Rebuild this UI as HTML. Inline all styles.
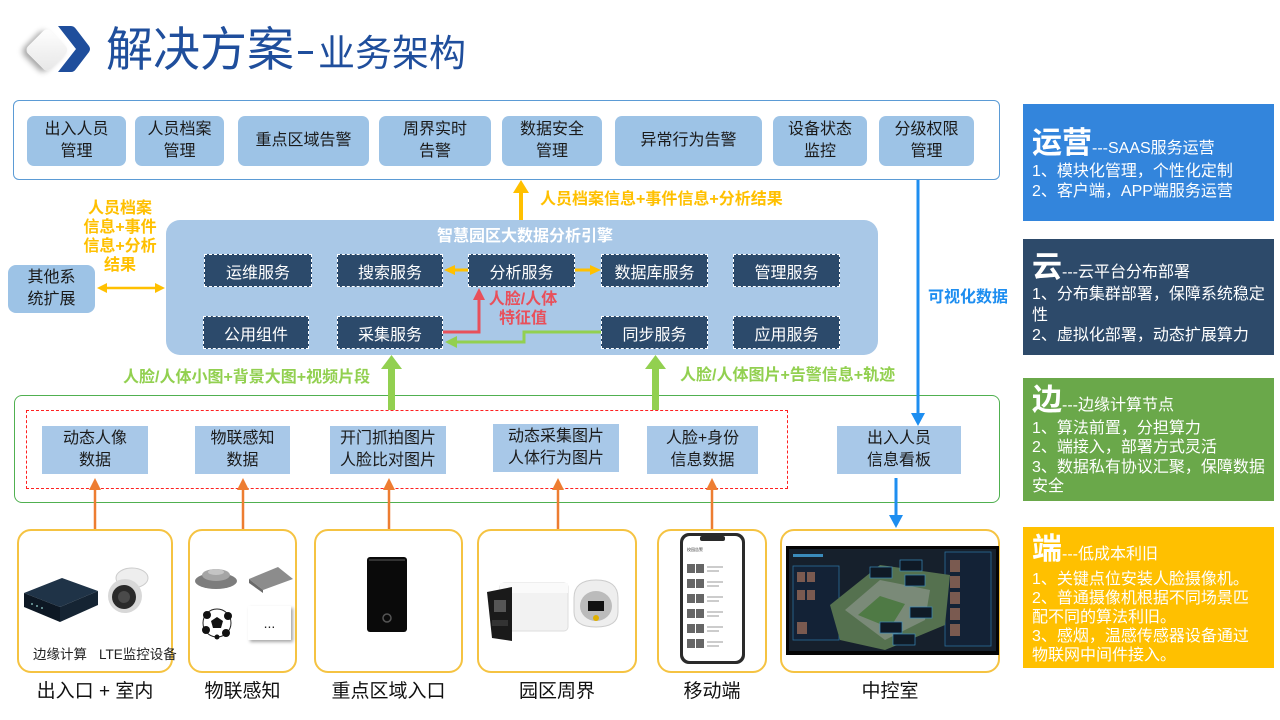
<!DOCTYPE html>
<html><head><meta charset="utf-8">
<style>
*{margin:0;padding:0;box-sizing:border-box}
body{width:1280px;height:720px;overflow:hidden;background:#fff;font-family:"Liberation Sans","Noto Sans CJK SC",sans-serif;position:relative}
.a{position:absolute;white-space:nowrap}
.c{display:flex;align-items:center;justify-content:center;text-align:center}
.tb{background:#9dc3e6;border-radius:7px;font-size:16px;line-height:22px;color:#1a1a1a;top:116px;height:50px}
.db{background:#2c4a6b;border:1.5px dashed #fff;color:#fff;font-size:16px;height:33px}
.lb{background:#a8c8e8;font-size:16px;line-height:22px;color:#1a1a1a;}
.dev{border:2px solid #f5c342;border-radius:14px;top:529px;height:144px}
.dl{top:680px;font-size:19px;color:#111;height:24px;line-height:24px}
.rp{left:1023px;width:251px}
.rt{left:1032px;color:#fff;font-size:30px;font-weight:bold;line-height:30px}
.rt span{font-size:16px;font-weight:normal}
.rl{left:1032px;color:#fff;font-size:16px}
.lab{font-weight:bold;font-size:16px}
</style></head><body>

<!-- Title -->
<svg class="a" style="left:0;top:0" width="110" height="95">
  <defs><filter id="sh" x="-50%" y="-50%" width="200%" height="200%"><feDropShadow dx="-2" dy="4" stdDeviation="3" flood-color="#000" flood-opacity="0.35"/></filter>
  <linearGradient id="dg" x1="0" y1="0" x2="1" y2="1"><stop offset="0" stop-color="#ffffff"/><stop offset="1" stop-color="#e6e6e6"/></linearGradient></defs>
  <rect x="31" y="34" width="32" height="32" rx="6" fill="url(#dg)" transform="rotate(45 47 50)" filter="url(#sh)"/>
  <path d="M58 26 L71 26 Q74 26 76 29 L89 46 Q91 49 89 52 L76 69 Q74 72 71 72 L58 72 L76 49 Z" fill="#1f4e9c"/>
</svg>
<div class="a" style="left:106px;top:25px;font-size:47px;line-height:50px;color:#1f4e9c">解决方案</div>
<div class="a" style="left:298px;top:51px;width:15px;height:3px;background:#1f4e9c"></div>
<div class="a" style="left:318px;top:34px;font-size:37px;line-height:40px;color:#1f4e9c">业务架构</div>

<!-- Top box -->
<div class="a" style="left:13px;top:100px;width:987px;height:80px;border:1.5px solid #5b9bd5;border-radius:6px"></div>
<div class="a c tb" style="left:27px;width:99px">出入人员<br>管理</div>
<div class="a c tb" style="left:135px;width:89px">人员档案<br>管理</div>
<div class="a c tb" style="left:238px;width:131px">重点区域告警</div>
<div class="a c tb" style="left:379px;width:112px">周界实时<br>告警</div>
<div class="a c tb" style="left:502px;width:100px">数据安全<br>管理</div>
<div class="a c tb" style="left:615px;width:147px">异常行为告警</div>
<div class="a c tb" style="left:773px;width:94px">设备状态<br>监控</div>
<div class="a c tb" style="left:879px;width:95px">分级权限<br>管理</div>

<!-- Engine -->
<div class="a" style="left:166px;top:220px;width:712px;height:135px;background:#a9c8e7;border-radius:14px"></div>
<div class="a" style="left:437px;top:227px;font-size:16px;line-height:20px;font-weight:bold;color:#fff">智慧园区大数据分析引擎</div>
<div class="a c db" style="left:204px;top:254px;width:108px">运维服务</div>
<div class="a c db" style="left:337px;top:254px;width:106px">搜索服务</div>
<div class="a c db" style="left:468px;top:254px;width:107px">分析服务</div>
<div class="a c db" style="left:601px;top:254px;width:107px">数据库服务</div>
<div class="a c db" style="left:733px;top:254px;width:107px">管理服务</div>
<div class="a c db" style="left:203px;top:316px;width:106px">公用组件</div>
<div class="a c db" style="left:337px;top:316px;width:106px">采集服务</div>
<div class="a c db" style="left:601px;top:316px;width:107px">同步服务</div>
<div class="a c db" style="left:733px;top:316px;width:107px">应用服务</div>

<!-- Other system -->
<div class="a c" style="left:8px;top:265px;width:87px;height:48px;background:#9dc3e6;border-radius:8px;font-size:16px;line-height:22px;color:#1a1a1a">其他系<br>统扩展</div>

<!-- Bottom green box -->
<div class="a" style="left:14px;top:395px;width:986px;height:108px;border:1.5px solid #50b050;border-radius:8px"></div>
<div class="a" style="left:26px;top:410px;width:762px;height:79px;border:1.5px dashed #ff2020"></div>
<div class="a c lb" style="left:42px;top:426px;width:106px;height:48px">动态人像<br>数据</div>
<div class="a c lb" style="left:195px;top:426px;width:95px;height:48px">物联感知<br>数据</div>
<div class="a c lb" style="left:330px;top:426px;width:116px;height:48px">开门抓拍图片<br>人脸比对图片</div>
<div class="a c lb" style="left:493px;top:424px;width:126px;height:48px">动态采集图片<br>人体行为图片</div>
<div class="a c lb" style="left:647px;top:426px;width:111px;height:48px">人脸+身份<br>信息数据</div>
<div class="a c lb" style="left:837px;top:426px;width:124px;height:48px">出入人员<br>信息看板</div>

<!-- Labels -->
<div class="a lab" style="left:540px;top:189px;line-height:22px;color:#ffc000">人员档案信息+事件信息+分析结果</div>
<div class="a lab c" style="left:70px;top:199px;width:100px;line-height:19px;color:#ffc000">人员档案<br>信息+事件<br>信息+分析<br>结果</div>
<div class="a lab c" style="left:478px;top:290px;width:90px;line-height:19px;color:#e8505b">人脸/人体<br>特征值</div>
<div class="a lab" style="left:123px;top:367px;line-height:22px;color:#92d050">人脸/人体小图+背景大图+视频片段</div>
<div class="a lab" style="left:680px;top:365px;line-height:22px;color:#92d050">人脸/人体图片+告警信息+轨迹</div>
<div class="a lab" style="left:928px;top:287px;line-height:22px;color:#1e8ef0">可视化数据</div>

<!-- Device boxes -->
<div class="a dev" style="left:17px;width:156px"></div>
<div class="a dev" style="left:188px;width:109px"></div>
<div class="a dev" style="left:314px;width:149px"></div>
<div class="a dev" style="left:477px;width:160px"></div>
<div class="a dev" style="left:657px;width:110px"></div>
<div class="a dev" style="left:780px;width:220px"></div>
<div class="a" style="left:33px;top:646px;font-size:13.5px;line-height:18px;color:#222">边缘计算</div>
<div class="a" style="left:99px;top:646px;font-size:13.5px;line-height:18px;color:#222">LTE监控设备</div>

<div class="a c dl" style="left:17px;width:156px">出入口 + 室内</div>
<div class="a c dl" style="left:188px;width:109px">物联感知</div>
<div class="a c dl" style="left:314px;width:149px">重点区域入口</div>
<div class="a c dl" style="left:477px;width:160px">园区周界</div>
<div class="a c dl" style="left:657px;width:110px">移动端</div>
<div class="a c dl" style="left:780px;width:220px">中控室</div>

<!-- Connectors & device drawings -->
<svg class="a" style="left:0;top:0" width="1010" height="720">
  <defs><filter id="cs" x="-30%" y="-30%" width="160%" height="160%"><feDropShadow dx="2" dy="2" stdDeviation="1.5" flood-color="#000" flood-opacity="0.35"/></filter></defs>
  <!-- yellow -->
  <line x1="521" y1="220" x2="521" y2="191" stroke="#ffc000" stroke-width="4"/>
  <polygon points="521,180 513,193 529,193" fill="#ffc000"/>
  <line x1="105" y1="288" x2="157" y2="288" stroke="#ffc000" stroke-width="2.5"/>
  <polygon points="97,288 107,283 107,293" fill="#ffc000"/>
  <polygon points="165,288 155,283 155,293" fill="#ffc000"/>
  <line x1="468" y1="270" x2="453" y2="270" stroke="#ffc000" stroke-width="3"/>
  <polygon points="444,270 455,265 455,275" fill="#ffc000"/>
  <line x1="575" y1="270" x2="591" y2="270" stroke="#ffc000" stroke-width="3"/>
  <polygon points="601,270 590,265 590,275" fill="#ffc000"/>
  <!-- red -->
  <polyline points="443,332 479,332 479,298" fill="none" stroke="#e8505b" stroke-width="3"/>
  <polygon points="479,288 473,300 485,300" fill="#e8505b"/>
  <!-- green -->
  <polyline points="601,332 524,332 524,342 455,342" fill="none" stroke="#92d050" stroke-width="3"/>
  <polygon points="445,342 457,336 457,348" fill="#92d050"/>
  <rect x="388" y="365" width="7" height="45" fill="#92d050"/>
  <polygon points="391.5,355 381,369 402,369" fill="#92d050"/>
  <rect x="652" y="365" width="7" height="45" fill="#92d050"/>
  <polygon points="655.5,355 645,369 666,369" fill="#92d050"/>
  <!-- blue -->
  <line x1="918" y1="180" x2="918" y2="415" stroke="#1e8ef0" stroke-width="3"/>
  <polygon points="918,426 911,413 925,413" fill="#1e8ef0"/>
  <line x1="896" y1="478" x2="896" y2="517" stroke="#1e8ef0" stroke-width="3"/>
  <polygon points="896,528 889,515 903,515" fill="#1e8ef0"/>
  <!-- orange -->
  <g stroke="#ed7d31" stroke-width="2.5">
    <line x1="95" y1="529" x2="95" y2="488"/>
    <line x1="243" y1="529" x2="243" y2="488"/>
    <line x1="389" y1="529" x2="389" y2="488"/>
    <line x1="558" y1="529" x2="558" y2="488"/>
    <line x1="712" y1="529" x2="712" y2="488"/>
  </g>
  <g fill="#ed7d31">
    <polygon points="95,478 89,490 101,490"/>
    <polygon points="243,478 237,490 249,490"/>
    <polygon points="389,478 383,490 395,490"/>
    <polygon points="558,478 552,490 564,490"/>
    <polygon points="712,478 706,490 718,490"/>
  </g>

  <!-- box1 edge device -->
  <polygon points="24,593 62,578 98,591 60,607" fill="#1f3347"/>
  <polygon points="24,593 60,607 60,622 24,607" fill="#0d1824"/>
  <polygon points="60,607 98,591 98,605 60,622" fill="#152433"/>
  <rect x="55" y="586" width="14" height="8" fill="#2b4258" transform="skewX(-20)"/>
  <circle cx="32" cy="604" r="1" fill="#7aa"/><circle cx="37" cy="606" r="1" fill="#7aa"/><circle cx="42" cy="608" r="1" fill="#7aa"/>
  <!-- camera -->
  <ellipse cx="132" cy="578" rx="16" ry="10" fill="#eee" stroke="#ccc"/>
  <circle cx="125" cy="596" r="17" fill="#d8d8d8"/>
  <circle cx="124" cy="597" r="12" fill="#2a2a2a"/>
  <circle cx="124" cy="597" r="6" fill="#4a4a4a"/>

  <!-- box2 IoT -->
  <ellipse cx="216" cy="581" rx="21" ry="8" fill="#7d7d7d"/>
  <ellipse cx="216" cy="575" rx="14" ry="6" fill="#a5a5a5"/>
  <ellipse cx="216" cy="572" rx="8" ry="3" fill="#c4c4c4"/>
  <polygon points="249,579 278,567 293,579 263,590" fill="#8c8c8c"/>
  <polygon points="249,579 263,590 263,593 249,583" fill="#6a6a6a"/>
  <circle cx="217" cy="623" r="14" fill="#fff" stroke="#222" stroke-width="1"/>
  <polygon points="217,617 223,621 221,628 213,628 211,621" fill="#111"/>
  <circle cx="207" cy="615" r="4" fill="#111"/><circle cx="228" cy="616" r="4" fill="#111"/>
  <circle cx="206" cy="630" r="4" fill="#111"/><circle cx="226" cy="633" r="4" fill="#111"/><circle cx="217" cy="637" r="2.5" fill="#111"/>
  <rect x="248" y="606" width="43" height="34" fill="#fff" filter="url(#cs)"/>
  <text x="269.5" y="628" font-size="14" text-anchor="middle" fill="#222" font-family="Liberation Sans, sans-serif">...</text>

  <!-- box3 access device -->
  <rect x="367" y="557" width="40" height="75" rx="3" fill="#0a0a0a"/>
  <rect x="369" y="559" width="36" height="2" fill="#333"/>
  <circle cx="387" cy="618" r="4" fill="none" stroke="#555" stroke-width="1.5"/>

  <!-- box4 cameras -->
  <rect x="500" y="583" width="68" height="48" rx="4" fill="#f2f2f2" stroke="#ddd"/>
  <rect x="500" y="583" width="68" height="10" fill="#fafafa"/>
  <polygon points="487,592 512,587 512,641 492,638" fill="#1a1a1a"/>
  <rect x="494" y="600" width="12" height="12" fill="#555"/>
  <rect x="492" y="620" width="16" height="6" fill="#333"/>
  <path d="M574 598 Q574 580 596 580 Q618 580 618 598 L618 612 Q618 627 596 627 Q574 627 574 612 Z" fill="#eeeeee" stroke="#ccc"/>
  <ellipse cx="596" cy="606" rx="16" ry="15" fill="#bbb"/>
  <rect x="588" y="601" width="16" height="10" fill="#111"/>
  <circle cx="596" cy="618" r="3" fill="#e0b000"/>

  <!-- box5 phone -->
  <rect x="680" y="533" width="65" height="131" rx="9" fill="#2a2a2a"/>
  <rect x="683" y="536" width="59" height="125" rx="7" fill="#fff"/>
  <rect x="700" y="536" width="25" height="5" rx="2" fill="#2a2a2a"/>
  <text x="687" y="551" font-size="4" fill="#333" font-family="Noto Sans CJK SC, sans-serif">校园告警</text>
  <g fill="#666">
    <rect x="687" y="564" width="8" height="9"/><rect x="696" y="564" width="8" height="9"/>
    <rect x="687" y="579" width="8" height="9"/><rect x="696" y="579" width="8" height="9"/>
    <rect x="687" y="594" width="8" height="9"/><rect x="696" y="594" width="8" height="9"/>
    <rect x="687" y="609" width="8" height="9"/><rect x="696" y="609" width="8" height="9"/>
    <rect x="687" y="624" width="8" height="9"/><rect x="696" y="624" width="8" height="9"/>
    <rect x="687" y="639" width="8" height="9"/><rect x="696" y="639" width="8" height="9"/>
  </g>
  <g fill="#ccc">
    <rect x="707" y="566" width="16" height="2"/><rect x="707" y="570" width="12" height="2"/>
    <rect x="707" y="581" width="16" height="2"/><rect x="707" y="585" width="12" height="2"/>
    <rect x="707" y="596" width="16" height="2"/><rect x="707" y="600" width="12" height="2"/>
    <rect x="707" y="611" width="16" height="2"/><rect x="707" y="615" width="12" height="2"/>
    <rect x="707" y="626" width="16" height="2"/><rect x="707" y="630" width="12" height="2"/>
    <rect x="707" y="641" width="16" height="2"/><rect x="707" y="645" width="12" height="2"/>
  </g>

  <!-- box6 control screen -->
  <rect x="786" y="546" width="213" height="109" fill="#050505"/>
  <rect x="789" y="549" width="207" height="102" fill="#16202c"/>
  <rect x="793" y="566" width="46" height="74" fill="#132236" stroke="#2c6e9c" stroke-width="0.8"/>
  <rect x="945" y="552" width="46" height="94" fill="#132236" stroke="#2c6e9c" stroke-width="0.8"/>
  <polygon points="830,605 880,565 950,575 945,625 885,650 840,640" fill="#55714f"/>
  <polygon points="845,610 880,580 930,590 925,620 885,640" fill="#7a8a78"/>
  <polygon points="858,615 880,596 905,604 890,628" fill="#4f7a45"/>
  <g fill="#7a5a50">
    <rect x="950" y="560" width="10" height="12"/><rect x="950" y="576" width="10" height="12"/><rect x="950" y="592" width="10" height="12"/><rect x="950" y="608" width="10" height="12"/><rect x="950" y="624" width="10" height="12"/>
    <rect x="797" y="572" width="8" height="10"/><rect x="807" y="572" width="8" height="10"/><rect x="797" y="590" width="8" height="10"/><rect x="807" y="590" width="8" height="10"/><rect x="797" y="622" width="10" height="12"/>
  </g>
  <g fill="#0f1a26" stroke="#3a8bbb" stroke-width="0.7">
    <rect x="870" y="567" width="22" height="11"/><rect x="900" y="560" width="22" height="11"/><rect x="905" y="575" width="20" height="11"/>
    <rect x="910" y="607" width="22" height="11"/><rect x="880" y="622" width="22" height="11"/><rect x="893" y="634" width="22" height="11"/>
  </g>
  <rect x="793" y="554" width="30" height="3" fill="#3a8bbb"/>
</svg>

<!-- Right panels -->
<div class="a rp" style="top:104px;height:117px;background:#3385dc"></div>
<div class="a rt" style="top:129px">运营<span>---SAAS服务运营</span></div>
<div class="a rl" style="top:162px;line-height:19.5px">1、模块化管理，个性化定制<br>2、客户端，APP端服务运营</div>

<div class="a rp" style="top:239px;height:116px;background:#2d4a6a"></div>
<div class="a rt" style="top:253px">云<span>---云平台分布部署</span></div>
<div class="a rl" style="top:285px;line-height:20.5px">1、分布集群部署，保障系统稳定<br>性<br>2、虚拟化部署，动态扩展算力</div>

<div class="a rp" style="top:378px;height:123px;background:#6aa84a"></div>
<div class="a rt" style="top:386px">边<span>---边缘计算节点</span></div>
<div class="a rl" style="top:419px;line-height:19.4px">1、算法前置，分担算力<br>2、端接入，部署方式灵活<br>3、数据私有协议汇聚，保障数据<br>安全</div>

<div class="a rp" style="top:527px;height:141px;background:#ffc000"></div>
<div class="a rt" style="top:535px">端<span>---低成本利旧</span></div>
<div class="a rl" style="top:570px;line-height:19px">1、关键点位安装人脸摄像机。<br>2、普通摄像机根据不同场景匹<br>配不同的算法利旧。<br>3、感烟，温感传感器设备通过<br>物联网中间件接入。</div>

</body></html>
